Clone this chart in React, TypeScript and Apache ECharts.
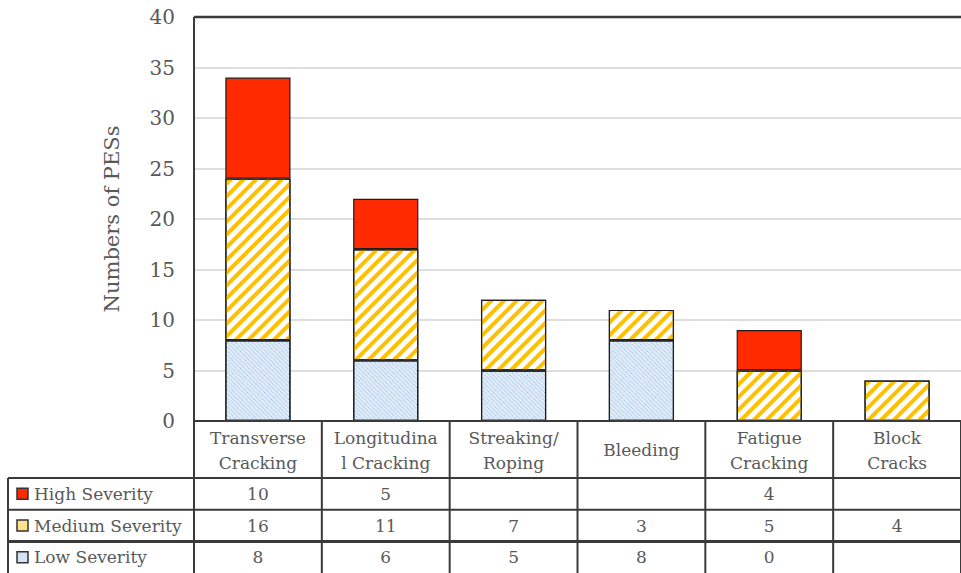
import React, { useEffect, useRef } from "react";
import * as echarts from "echarts";

const categories = [
  "Transverse\nCracking",
  "Longitudina\nl Cracking",
  "Streaking/\nRoping",
  "Bleeding",
  "Fatigue\nCracking",
  "Block\nCracks",
];
const rowNames = ["High Severity", "Medium Severity", "Low Severity"];
const highValues: (number | null)[] = [10, 5, null, null, 4, null];
const mediumValues: (number | null)[] = [16, 11, 7, 3, 5, 4];
const lowValues: (number | null)[] = [8, 6, 5, 8, 0, null];
const yMin = 0;
const yMax = 40;
const yInterval = 5;
const yAxisName = "Numbers of PESs";

const FONT = "DejaVu Serif";
const TEXT = "#595959";
const LINE = "#3a3a3a";
const RED = "#FF2A00";
const GOLD = "#FFC000";
const BLUE_BG = "#E2EDF9";
const BLUE_DOT = "#94BBE3";

export default function App() {
  const ref = useRef<HTMLDivElement>(null);
  useEffect(() => {
    if (!ref.current) return;
    const chart = echarts.init(ref.current, null, { renderer: "svg" });
    const barBase = {
      type: "bar" as const,
      stack: "total",
      barWidth: "51%",
      itemStyle: { borderColor: "#1e1e1e", borderWidth: 1.2 },
    };
    const option: any = {
      animation: false,
      backgroundColor: "#ffffff",
      grid: { left: 194, top: 17, width: 777, height: 404 },
      xAxis: {
        type: "category",
        data: categories,
        axisLine: { show: false },
        axisTick: { show: false },
        axisLabel: {
          interval: 0,
          margin: 29,
          verticalAlign: "middle",
          color: TEXT,
          fontFamily: FONT,
          fontSize: 17,
          lineHeight: 25,
        },
        splitLine: { show: false },
      },
      yAxis: {
        type: "value",
        min: yMin,
        max: yMax,
        interval: yInterval,
        name: yAxisName,
        nameLocation: "middle",
        nameRotate: 90,
        nameGap: 72,
        nameTextStyle: { color: TEXT, fontFamily: FONT, fontSize: 21 },
        axisLine: { show: false },
        axisTick: { show: false },
        axisLabel: { color: TEXT, fontFamily: FONT, fontSize: 20, margin: 19 },
        splitLine: { lineStyle: { color: "#DEDEDE", width: 2 } },
      },
      series: [
        {
          ...barBase,
          name: rowNames[2],
          data: lowValues,
          itemStyle: {
            ...barBase.itemStyle,
            color: BLUE_BG,
            decal: {
              symbol: "rect",
              color: BLUE_DOT,
              dashArrayX: [1, 1],
              dashArrayY: [1, 1.5],
              rotation: Math.PI / 4,
            },
          },
        },
        {
          ...barBase,
          name: rowNames[1],
          data: mediumValues,
          itemStyle: {
            ...barBase.itemStyle,
            color: "#ffffff",
            decal: {
              symbol: "rect",
              color: GOLD,
              dashArrayX: [1, 0],
              dashArrayY: [3.5, 4.3],
              rotation: -Math.PI / 4,
            },
          },
        },
        {
          ...barBase,
          name: rowNames[0],
          data: highValues,
          itemStyle: { ...barBase.itemStyle, color: RED },
        },
      ],
    };
    chart.setOption(option);

    const c0 = chart.convertToPixel({ xAxisIndex: 0 }, 0) as number;
    const c1 = chart.convertToPixel({ xAxisIndex: 0 }, 1) as number;
    const band = c1 - c0;
    const left = c0 - band / 2;
    const yZero = chart.convertToPixel({ yAxisIndex: 0 }, yMin) as number;
    const yTop = chart.convertToPixel({ yAxisIndex: 0 }, yMax) as number;
    const headerBottom = yZero + 57;
    const rowH = 31.7;
    const tableLeft = 8;
    const right = left + band * categories.length;
    const tableBottom = headerBottom + rowH * 3;
    const rowValues = [highValues, mediumValues, lowValues];
    const iconFills = [RED, "#FFE28A", "#D3E3F4"];

    const g: any[] = [];
    const line = (x1: number, y1: number, x2: number, y2: number, w = 2) =>
      g.push({
        type: "line",
        shape: { x1, y1, x2, y2 },
        style: { stroke: LINE, lineWidth: w },
        z: 10,
      });
    line(left, yTop, right, yTop, 2.5);
    line(left, yTop, left, tableBottom + 2, 2);
    line(left, yZero, right, yZero, 2);
    for (let r = 0; r < 3; r++) {
      const y = headerBottom + r * rowH;
      line(tableLeft, y, right, y, r === 2 ? 3 : 2);
    }
    line(tableLeft, headerBottom, tableLeft, tableBottom + 2, 2);
    for (let i = 1; i <= categories.length; i++) {
      const x = left + i * band;
      line(x, yZero, x, tableBottom + 2, 2);
    }
    rowNames.forEach((name, r) => {
      const cy = headerBottom + r * rowH + rowH / 2;
      g.push({
        type: "rect",
        shape: { x: 17, y: cy - 5.5, width: 11, height: 11 },
        style: { fill: iconFills[r], stroke: "#333", lineWidth: 1.5 },
        z: 10,
      });
      g.push({
        type: "text",
        x: 34,
        y: cy,
        style: {
          text: name,
          fill: TEXT,
          fontFamily: FONT,
          fontSize: 17,
          align: "left",
          verticalAlign: "middle",
        },
        z: 10,
      });
      rowValues[r].forEach((v, i) => {
        if (v === null) return;
        const cx = chart.convertToPixel({ xAxisIndex: 0 }, i) as number;
        g.push({
          type: "text",
          x: cx,
          y: cy,
          style: {
            text: String(v),
            fill: TEXT,
            fontFamily: FONT,
            fontSize: 17,
            align: "center",
            verticalAlign: "middle",
          },
          z: 10,
        });
      });
    });
    chart.setOption({ graphic: g });

    return () => chart.dispose();
  }, []);
  return (
    <div
      ref={ref}
      style={{ position: "fixed", left: 0, top: 0, width: 961, height: 573 }}
    />
  );
}
